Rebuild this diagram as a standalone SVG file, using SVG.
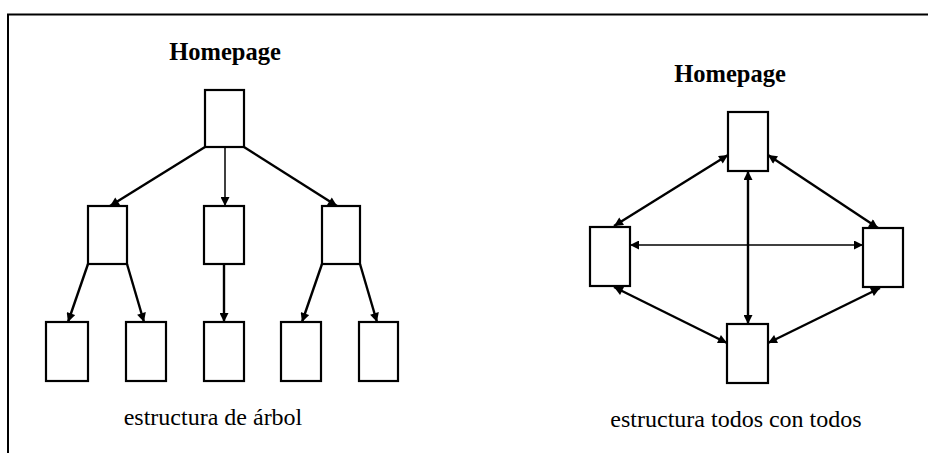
<svg xmlns="http://www.w3.org/2000/svg" width="928" height="453" viewBox="0 0 928 453">
  <defs>
    <marker id="head" viewBox="0 0 10 10" refX="10" refY="5" markerWidth="10" markerHeight="9" markerUnits="userSpaceOnUse" orient="auto-start-reverse">
      <path d="M0,0 L10,5 L0,10 z" fill="#000"/>
    </marker>
  </defs>
  <style>
    .page { fill: #fff; stroke: #000; stroke-width: 2.2; }
    .link { stroke: #000; stroke-width: 2.4; fill: none; }
    .thin { stroke-width: 1.5; }
    .one { marker-end: url(#head); }
    .two { marker-start: url(#head); marker-end: url(#head); }
    .title { font-family: "Liberation Serif", "Times New Roman", Times, serif; font-weight: bold; font-size: 24.5px; text-anchor: middle; }
    .caption { font-family: "Liberation Serif", "Times New Roman", Times, serif; font-size: 24px; text-anchor: middle; }
  </style>
  <rect width="928" height="453" fill="#fff"/>

  <!-- frame -->
  <path d="M8,453 L8,14.5 L928,14.5" fill="none" stroke="#000" stroke-width="2"/>

  <!-- tree structure -->
  <g id="tree-links">
    <line class="link one" x1="205" y1="147" x2="110" y2="206"/>
    <line class="link one thin" x1="225" y1="147" x2="225" y2="206"/>
    <line class="link one" x1="244" y1="147" x2="337" y2="206"/>
    <line class="link one" x1="88" y1="264" x2="68" y2="322"/>
    <line class="link one" x1="127" y1="264" x2="144" y2="322"/>
    <line class="link one" x1="224" y1="264" x2="224" y2="322"/>
    <line class="link one" x1="322" y1="264" x2="302" y2="322"/>
    <line class="link one" x1="360" y1="264" x2="377" y2="322"/>
  </g>
  <g id="tree-root"><rect class="page" x="205" y="90" width="39" height="57"/></g>
  <g id="tree-a"><rect class="page" x="88" y="206" width="39" height="58"/></g>
  <g id="tree-b"><rect class="page" x="204" y="206" width="40" height="58"/></g>
  <g id="tree-c"><rect class="page" x="322" y="206" width="38" height="58"/></g>
  <g id="tree-a1"><rect class="page" x="46" y="322" width="42" height="59"/></g>
  <g id="tree-a2"><rect class="page" x="126" y="322" width="40" height="59"/></g>
  <g id="tree-b1"><rect class="page" x="204" y="322" width="40" height="59"/></g>
  <g id="tree-c1"><rect class="page" x="281" y="322" width="40" height="59"/></g>
  <g id="tree-c2"><rect class="page" x="359" y="322" width="39" height="59"/></g>
  <text class="title" x="225" y="60">Homepage</text>
  <text class="caption" x="213" y="425">estructura de árbol</text>

  <!-- all-to-all structure -->
  <g id="mesh-links">
    <line class="link two" x1="614" y1="226" x2="728" y2="155"/>
    <line class="link two" x1="768" y1="155" x2="878" y2="228"/>
    <line class="link two" x1="748" y1="171" x2="748" y2="324"/>
    <line class="link two thin" x1="630" y1="245" x2="863" y2="245"/>
    <line class="link two" x1="614" y1="287" x2="727" y2="343"/>
    <line class="link two" x1="880" y1="288" x2="768" y2="343"/>
  </g>
  <g id="mesh-top"><rect class="page" x="728" y="112" width="40" height="59"/></g>
  <g id="mesh-left"><rect class="page" x="590" y="227" width="40" height="59"/></g>
  <g id="mesh-right"><rect class="page" x="863" y="228" width="40" height="59"/></g>
  <g id="mesh-bottom"><rect class="page" x="727" y="324" width="41" height="59"/></g>
  <text class="title" x="730" y="82">Homepage</text>
  <text class="caption" x="736" y="427">estructura todos con todos</text>
</svg>
